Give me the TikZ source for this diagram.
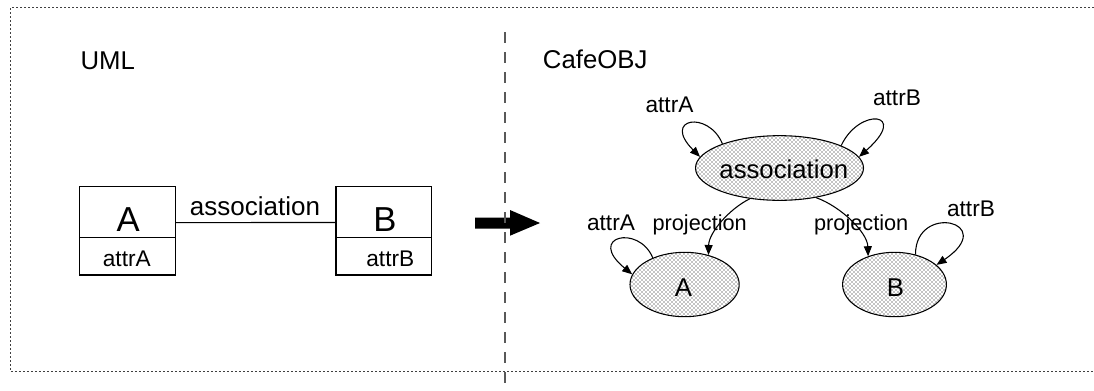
\documentclass[tikz,border=0pt]{standalone}
\usepackage{fontspec}
\setmainfont{Liberation Sans}
\usetikzlibrary{arrows.meta,shapes.geometric,patterns}

\newcommand{\fsz}[1]{\fontsize{#1}{#1}\selectfont}

\tikzset{
  frameline/.style={line width=0.8pt, black!75, dash pattern=on 1.4pt off 1.6pt},
  divider/.style={line width=0.8pt, black!65, dash pattern=on 8.25pt off 6.75pt},
  umlbox/.style={draw, line width=0.8pt, rectangle, inner sep=0pt, minimum width=72.3pt},
  sortnode/.style={draw, line width=0.8pt, ellipse, inner sep=0pt,
    pattern=crosshatch dots, pattern color=black},
  title/.style={font=\fsz{19.3pt}, anchor=base west, inner sep=0pt},
  txt/.style={anchor=base, inner sep=0pt},
  lbl/.style={font=\fsz{17pt}, anchor=base, inner sep=0pt},
  oparrow/.style={line width=0.8pt, -{Triangle[length=7.5pt,width=6pt]}},
}

\begin{document}
\begin{tikzpicture}[x=0.75pt, y=-0.75pt]
\useasboundingbox (0,0) rectangle (1094,390);

% outer dotted frame (open on the right)
\draw[frameline] (1094,7.3) -- (10.7,7.3) -- (10.7,371.7) -- (1094,371.7);

% titles
\node[title] (umltitle) at (80.4,69) {UML};
\node[title] (cafetitle) at (542.7,68.3) {CafeOBJ};

% ---- UML class diagram ----
\node[umlbox, minimum height=38.25pt] (Atop) at (127.5,212.2) {};
\node[umlbox, minimum height=28pt]    (Abot) at (127.5,256.35) {};
\node[umlbox, minimum height=38.25pt, minimum width=71.8pt] (Btop) at (383.85,212.2) {};
\node[umlbox, minimum height=28pt,    minimum width=71.8pt] (Bbot) at (383.85,256.35) {};

\node[txt, font=\fsz{26pt}] (Aname) at (128.3,231.7) {A};
\node[txt, font=\fsz{17pt}] (Aattr) at (126.8,266) {attrA};
\node[txt, font=\fsz{26pt}] (Bname) at (385,231.7) {B};
\node[txt, font=\fsz{17pt}] (Battr) at (390.3,266) {attrB};

\draw[line width=0.8pt] (Atop.-12.3) -- (Btop.192.3);
\node[txt, font=\fsz{19.5pt}] (assoclbl) at (255,215.7) {association};

% ---- translation arrow ----
\fill (475,217.5) -- (510,217.5) -- (510,210) -- (540,223) -- (510,235.7)
      -- (510,228.5) -- (475,228.5) -- cycle;

% vertical separator
\draw[divider] (505,32) -- (505,390);

% ---- CafeOBJ sorts ----
\node[sortnode, minimum width=126pt, minimum height=48.5pt] (assoc) at (779.5,168) {};
\node[sortnode, minimum width=81.9pt, minimum height=48.3pt] (sA) at (684.6,284.5) {};
\node[sortnode, minimum width=77.9pt, minimum height=48.3pt] (sB) at (894.5,284.5) {};

\node[txt, font=\fsz{19.3pt}] (assoctxt) at (783.8,178.3) {association};
\node[txt, font=\fsz{19.3pt}] (sAtxt) at (683.5,296.7) {A};
\node[txt, font=\fsz{19.3pt}] (sBtxt) at (895.5,296.7) {B};

% attribute loops
\draw[oparrow] (assoc.157) .. controls +(-14,-33.7) and +(-38.7,-38.7) .. (assoc.172.4);
\draw[oparrow] (assoc.20.2) .. controls +(18,-38.7) and +(51,-45) .. (assoc.8.4);
\draw[oparrow] (sA.140.6) .. controls +(-14,-33.7) and +(-46.3,-38) .. (sA.169.1);
\draw[oparrow] (sB.55.4) .. controls +(-0.3,-52.3) and +(63.3,-43) .. (sB.25.5);

% projections
\draw[oparrow] (assoc.226) .. controls +(-20.7,10.3) and +(0.3,-22.3) .. (sA.51.5);
\draw[oparrow] (assoc.321.6) .. controls +(25,9) and +(-0.7,-23.7) .. (sB.133.1);

% labels
\node[lbl] (la1) at (669.5,112.7) {attrA};
\node[lbl] (lb1) at (897,105) {attrB};
\node[lbl] (la2) at (611,230.5) {attrA};
\node[lbl] (lb2) at (971,216) {attrB};
\node[lbl, font=\fsz{16.3pt}] (pj1) at (699.7,230.7) {projection};
\node[lbl, font=\fsz{16.3pt}] (pj2) at (861.2,230.7) {projection};
\end{tikzpicture}
\end{document}
